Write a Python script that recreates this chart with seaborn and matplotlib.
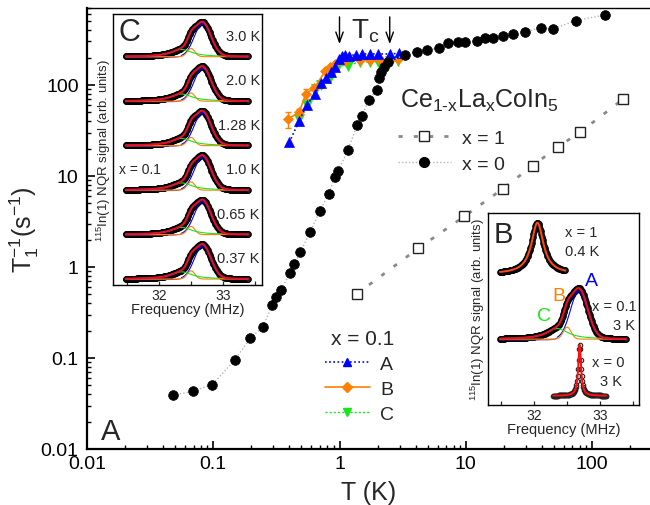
import numpy as np
import pandas as pd
import matplotlib
matplotlib.use("Agg")
import matplotlib.pyplot as plt
import seaborn as sns
from matplotlib.lines import Line2D
from matplotlib import ticker
import matplotlib.transforms as mtransforms

# ---------------- data ----------------
# x = 0 (CeCoIn5)
T_x0 = [0.048, 0.069, 0.098, 0.148, 0.197, 0.248, 0.294, 0.314, 0.344, 0.403,
        0.439, 0.49, 0.583, 0.70, 0.82, 0.92, 0.98, 1.17, 1.38, 1.5, 1.72, 1.97,
        2.07, 2.15, 2.25, 2.43, 3.3, 4.09, 4.96, 6.18, 7.28, 8.73, 9.86, 12.2,
        14.2, 16.5, 19.6, 23.8, 29.4, 39.2, 48.9, 74.7, 127]
R_x0 = [0.039, 0.043, 0.051, 0.095, 0.166, 0.221, 0.382, 0.464, 0.554, 0.853,
        1.08, 1.45, 2.41, 4.15, 6.3, 9.75, 11.4, 19.5, 36.3, 46, 69, 89,
        118, 138, 158, 180, 213, 232, 243, 255, 287, 299, 299, 307,
        326, 326, 348, 361, 385, 423, 412, 509, 588]
# x = 1 (LaCoIn5)
T_x1 = [1.37, 4.2, 9.75, 19.6, 33.9, 54.1, 80.4, 177]
R_x1 = [0.505, 1.6, 3.6, 7.2, 13.0, 21.0, 30.2, 70.1]
# x = 0.1, sites A, B, C
T_A = [0.40, 0.48, 0.55, 0.64, 0.71, 0.78, 0.85, 0.92, 0.99, 1.04, 1.1, 1.2,
       1.35, 1.5, 1.74, 2.0, 2.5, 2.98]
R_A = [23.4, 40.5, 60, 80, 105, 118, 138, 157, 193, 207, 212, 210,
       215, 219, 219, 219, 219, 223]
T_B = [0.39, 0.48, 0.54, 0.63, 0.77, 0.84, 0.92, 1.1, 1.45, 1.74, 2.1, 2.5, 2.9]
R_B = [42.3, 50, 80, 92, 141, 157, 170, 185, 190, 190, 190, 190, 193]
E_B = [8.5, 4, 10, 5, 4, 4, 4, 4, 4, 4, 4, 4, 4]
T_C = [0.48, 0.55, 0.65, 0.72, 0.84, 0.98, 1.17, 1.45, 1.74, 2.0, 2.5, 2.9]
R_C = [42, 60, 90, 100, 118, 163, 163, 180, 178, 180, 185, 185]
Tc_marks = [1.0, 2.5]

# axes tick values
x_ticks = [0.01, 0.1, 1, 10, 100]
y_ticks = [0.01, 0.1, 1, 10, 100]

# NQR spectra (x = 0.1) : three-site decomposition
site_names = ["A", "B", "C"]
site_centers = [32.68, 32.50, 32.35]   # MHz
site_amps = [1.0, 0.25, 0.22]
site_widths = [0.13, 0.06, 0.20]       # MHz
temps_C = ["3.0 K", "2.0 K", "1.28 K", "1.0 K", "0.65 K", "0.37 K"]
freq_C = (31.48, 33.40)
# inset B single lines
x1_center, x1_width, x1_range = 32.05, 0.11, (31.48, 32.48)
x0_center, x0_width, x0_range = 32.69, 0.025, (32.29, 33.09)

# ---------------- style ----------------
sns.set_theme(style="ticks")
plt.rcParams["font.family"] = ["Liberation Sans", "DejaVu Sans"]
plt.rcParams["mathtext.fontset"] = "custom"
plt.rcParams["mathtext.rm"] = "Liberation Sans"
plt.rcParams["mathtext.it"] = "Liberation Sans:italic"
plt.rcParams["mathtext.bf"] = "Liberation Sans:bold"
plt.rcParams["axes.unicode_minus"] = True

BLUE = "#0000ff"
ORANGE = "#ff8000"
GREEN = "#19e619"
RED = "#e3102d"
PURPLE = "#7030a0"
OLIVE = "#b0a020"

fig = plt.figure(figsize=(6.5, 5.06), dpi=100)
ax = fig.add_axes([87/650, 56/506, 563/650, 441/506])
ax.set_xscale("log")
ax.set_yscale("log")

# x = 1
sns.lineplot(x=T_x1, y=R_x1, ax=ax, estimator=None, sort=False, color="#8a8a8a",
             linestyle=(0, (1.5, 4)), linewidth=2.0, marker="s", markersize=7.5,
             markerfacecolor="white", markeredgecolor="#222222",
             markeredgewidth=1.0, legend=False, zorder=3)
# x = 0.1 sites
sns.lineplot(x=T_C, y=R_C, ax=ax, estimator=None, sort=False, color=GREEN,
             linestyle=(0, (1.5, 1.5)), linewidth=1.0, marker="v", markersize=6.5,
             markerfacecolor=GREEN, markeredgecolor=GREEN, markeredgewidth=0.5,
             legend=False, zorder=4)
ax.errorbar(T_B, R_B, yerr=E_B, fmt="none", ecolor=ORANGE, elinewidth=1.0,
            capsize=2.5, zorder=5)
sns.lineplot(x=T_B, y=R_B, ax=ax, estimator=None, sort=False, color=ORANGE,
             linestyle="-", linewidth=1.2, marker="D", markersize=5.5,
             markerfacecolor=ORANGE, markeredgecolor=ORANGE, markeredgewidth=0.5,
             legend=False, zorder=5)
sns.lineplot(x=T_A, y=R_A, ax=ax, estimator=None, sort=False, color=BLUE,
             linestyle=(0, (1, 1.5)), linewidth=1.2, marker="^", markersize=7,
             markerfacecolor=BLUE, markeredgecolor=BLUE, markeredgewidth=0.5,
             legend=False, zorder=6)
# x = 0
sns.lineplot(x=T_x0, y=R_x0, ax=ax, estimator=None, sort=False, color="#b5b5b5",
             linestyle=(0, (1, 1.5)), linewidth=1.0, marker="o", markersize=7,
             markerfacecolor="black", markeredgecolor="black",
             markeredgewidth=0.5, legend=False, zorder=7)

ax.set_xlim(0.01, 288)
ax.set_ylim(0.01, 700)
fmt = ticker.FuncFormatter(lambda v, p: f"{v:g}")
ax.xaxis.set_major_locator(ticker.FixedLocator(x_ticks))
ax.yaxis.set_major_locator(ticker.FixedLocator(y_ticks))
ax.xaxis.set_major_formatter(fmt)
ax.yaxis.set_major_formatter(fmt)
ax.xaxis.set_minor_locator(ticker.LogLocator(base=10, subs=np.arange(2, 10), numticks=20))
ax.yaxis.set_minor_locator(ticker.LogLocator(base=10, subs=np.arange(2, 10), numticks=20))
ax.xaxis.set_minor_formatter(ticker.NullFormatter())
ax.yaxis.set_minor_formatter(ticker.NullFormatter())
ax.tick_params(which="major", direction="in", length=6, width=1.2, labelsize=14,
               top=False, right=False, color="black", labelcolor="black")
ax.tick_params(which="minor", direction="in", length=3, width=1.0,
               top=False, right=False, color="black")
ax.tick_params(axis="x", which="major", pad=4)
ax.tick_params(axis="y", which="major", pad=6)
for side in ["left", "bottom"]:
    ax.spines[side].set_linewidth(1.6)
ax.spines["top"].set_linewidth(1.0)
ax.spines["right"].set_visible(False)
for s in ax.spines.values():
    s.set_color("black")
ax.set_xlabel("T (K)", fontsize=18, labelpad=6)
ax.set_ylabel(r"$\mathregular{T_1^{-1}(s^{-1})}$", fontsize=18, labelpad=0)

# Tc arrows
for tc in Tc_marks:
    ax.annotate("", xy=(tc, 262), xytext=(tc, 600),
                arrowprops=dict(arrowstyle="->,head_length=0.6,head_width=0.22",
                                lw=1.0, color="black"), zorder=8)
ax.text(1.6, 330, r"T$_{\mathregular{c}}$", fontsize=20, ha="center", va="baseline")
ax.text(0.025, 0.023, "A", transform=ax.transAxes, fontsize=21, ha="left",
        va="baseline")

# legends
fig.text(400/650, 1 - 108/506, r"Ce$_{\text{1-x}}$La$_{\text{x}}$CoIn$_{\text{5}}$",
         fontsize=18, ha="left", va="baseline")
h_x1 = Line2D([], [], color="#8a8a8a", ls=(0, (1.5, 4)), lw=2.0, marker="s", ms=7.5,
              mfc="white", mec="#222222", mew=1.0)
h_x0 = Line2D([], [], color="#b5b5b5", ls=(0, (1, 1.5)), lw=1.0, marker="o", ms=7,
              mfc="black", mec="black")
leg1 = ax.legend([h_x1, h_x0], ["x = 1", "x = 0"],
                 loc="upper left", bbox_to_anchor=(398/650, 1 - 130/506),
                 bbox_transform=fig.transFigure, frameon=False, fontsize=14,
                 handlelength=2.7, handletextpad=0.6,
                 labelspacing=0.45, borderpad=0,
                 borderaxespad=0, numpoints=1)
ax.add_artist(leg1)
h_A = Line2D([], [], color=BLUE, ls=(0, (1, 1.5)), lw=1.2, marker="^", ms=6, mfc=BLUE, mec=BLUE)
h_B = Line2D([], [], color=ORANGE, ls="-", lw=1.2, marker="D", ms=5, mfc=ORANGE, mec=ORANGE)
h_C = Line2D([], [], color=GREEN, ls=(0, (1.5, 1.5)), lw=1.0, marker="v", ms=6, mfc=GREEN, mec=GREEN)
leg2 = ax.legend([h_A, h_B, h_C], site_names, title="x = 0.1", loc="upper left",
                 bbox_to_anchor=(325/650, 176/506), bbox_transform=fig.transFigure,
                 frameon=False, fontsize=14, title_fontsize=15, handlelength=2.3,
                 handletextpad=0.55, labelspacing=0.38, alignment="right",
                 borderpad=0, borderaxespad=0, numpoints=1)


def site_profiles(f):
    a = site_amps[0] * np.exp(-0.5 * ((f - site_centers[0]) / site_widths[0]) ** 2)
    b = site_amps[1] * np.exp(-0.5 * ((f - site_centers[1]) / site_widths[1]) ** 2)
    c = site_amps[2] / (1 + ((f - site_centers[2]) / site_widths[2]) ** 2)
    tot = a + b + c
    norm = tot.max()
    return a / norm, b / norm, c / norm, tot / norm


def draw_x01(axi, off, f_range):
    f = np.arange(f_range[0], f_range[1], 0.01)
    a, b, c, tot = site_profiles(f)
    df = pd.DataFrame({"f": f, "s": tot + off})
    sns.lineplot(data=df, x="f", y="s", ax=axi, estimator=None, sort=False,
                 linestyle="none", marker="o", markersize=4.0,
                 markerfacecolor="#222222", markeredgecolor="black",
                 markeredgewidth=0.8, legend=False, zorder=2)
    left = f <= site_centers[2]
    right = f >= site_centers[0] + 0.25
    axi.plot(f[left], a[left] + off - 0.015, color=PURPLE, lw=0.7, zorder=3)
    axi.plot(f[right], c[right] + off, color=OLIVE, lw=0.9, zorder=3)
    axi.plot(f[~left], a[~left] + off, color=BLUE, lw=0.8, zorder=3)
    axi.plot(f, b + off, color=ORANGE, lw=0.8, zorder=3)
    axi.plot(f[~right], c[~right] + off, color=GREEN, lw=0.8, zorder=3)
    axi.plot(f, tot + off, color=RED, lw=1.5, zorder=4)


def style_inset(axi):
    axi.set_xticks([32, 33])
    axi.set_xticklabels(["32", "33"])
    axi.xaxis.set_minor_locator(ticker.FixedLocator([31.5, 32.5, 33.5]))
    axi.set_yticks([])
    axi.tick_params(axis="x", which="both", direction="in", length=3, width=0.9,
                    labelsize=10, pad=2, top=False)
    for s in axi.spines.values():
        s.set_linewidth(1.0)
        s.set_color("black")
    axi.set_xlabel("Frequency (MHz)", fontsize=10.5, labelpad=0)
    axi.set_facecolor("white")


# ---------------- inset C ----------------
axc = fig.add_axes([113/650, 220/506, 149/650, 271/506])
spacing_C = 1.27
for i, lab in enumerate(temps_C):
    off = (len(temps_C) - 1 - i) * spacing_C
    draw_x01(axc, off, freq_C)
    axc.text(0.985, off + 0.6, lab, transform=mtransforms.blended_transform_factory(
        axc.transAxes, axc.transData), ha="right", va="center", fontsize=10.5)
axc.text(0.04, 2 * spacing_C + 0.6, "x = 0.1", transform=mtransforms.blended_transform_factory(
    axc.transAxes, axc.transData), ha="left", va="center", fontsize=10)
axc.set_xlim(31.28, 33.61)
axc.set_ylim(-0.17, 7.57)
style_inset(axc)
axc.set_ylabel(r"$^{\mathregular{115}}$In(1) NQR signal (arb. units)", fontsize=9.5,
               labelpad=0)
axc.text(0.034, 0.99, "C", transform=axc.transAxes, fontsize=22, ha="left", va="top")

# ---------------- inset B ----------------
axb = fig.add_axes([488/650, 100/506, 151/650, 192/506])
offs_B = [2.57, 1.29, 0.18]
# x = 1
f1 = np.arange(x1_range[0], x1_range[1], 0.01)
s1 = 1 / (1 + ((f1 - x1_center) / x1_width) ** 2)
sns.lineplot(x=f1, y=s1 + offs_B[0], ax=axb, estimator=None, sort=False,
             linestyle="none", marker="o", markersize=4.0, markerfacecolor="#222222",
             markeredgecolor="black", markeredgewidth=0.8, legend=False, zorder=2)
axb.plot(f1, s1 + offs_B[0], color="#ff4a10", lw=1.4, zorder=4)
# x = 0.1
draw_x01(axb, offs_B[1], freq_C)
# x = 0
f0 = np.arange(x0_range[0], x0_range[1], 0.008)
s0 = 1 / (1 + ((f0 - x0_center) / x0_width) ** 2)
sns.lineplot(x=f0, y=s0 + offs_B[2], ax=axb, estimator=None, sort=False,
             linestyle="none", marker="o", markersize=3.2, markerfacecolor="none",
             markeredgecolor="#222222", markeredgewidth=0.8, legend=False, zorder=2)
axb.plot(f0, s0 + offs_B[2], color="#ff1010", lw=1.4, zorder=4)
axb.set_xlim(31.30, 33.59)
axb.set_ylim(0, 3.76)
style_inset(axb)
axb.set_ylabel(r"$^{\mathregular{115}}$In(1) NQR signal (arb. units)", fontsize=9.5,
               labelpad=1)
axb.text(0.035, 0.965, "B", transform=axb.transAxes, fontsize=21, ha="left", va="top")
axb.text(0.51, 0.90, "x = 1", transform=axb.transAxes, fontsize=10.5, ha="left", va="center")
axb.text(0.51, 0.80, "0.4 K", transform=axb.transAxes, fontsize=10.5, ha="left", va="center")
axb.text(0.686, 0.65, "A", transform=axb.transAxes, fontsize=14, color=BLUE, ha="center", va="center")
axb.text(0.47, 0.57, "B", transform=axb.transAxes, fontsize=14, color=ORANGE, ha="center", va="center")
axb.text(0.37, 0.465, "C", transform=axb.transAxes, fontsize=14, color=GREEN, ha="center", va="center")
axb.text(0.985, 0.517, "x = 0.1", transform=axb.transAxes, fontsize=10.5, ha="right", va="center")
axb.text(0.973, 0.417, "3 K", transform=axb.transAxes, fontsize=10.5, ha="right", va="center")
axb.text(0.69, 0.222, "x = 0", transform=axb.transAxes, fontsize=10.5, ha="left", va="center")
axb.text(0.74, 0.127, "3 K", transform=axb.transAxes, fontsize=10.5, ha="left", va="center")

fig.savefig("out.png", dpi=100, facecolor="white")
